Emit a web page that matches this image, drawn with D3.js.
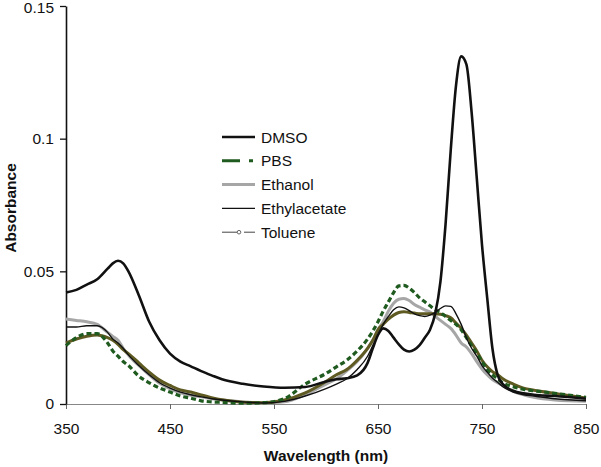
<!DOCTYPE html>
<html>
<head>
<meta charset="utf-8">
<script src="https://cdn.jsdelivr.net/npm/d3@7"></script>
<style>
  body { margin: 0; background: #fff; }
  svg text { font-family: Arial, "Liberation Sans", sans-serif; fill: #111; }
</style>
</head>
<body>
<div id="chart"></div>
<script>
// wavelength grid (nm), shared by every series
const wavelengths = [350,360,370,380,390,395,400,405,410,420,430,440,450,460,470,480,490,500,520,540,560,580,600,610,620,630,640,645,650,655,660,665,670,675,680,685,690,695,700,705,710,715,720,725,730,735,740,745,750,755,760,765,770,780,790,800,820,850]

const dmso = [.042,.043,.045,.047,.051,.053,.054,.053,.050,.041,.031,.024,.019,.016,.0142,.0124,.0108,.0093,.0076,.0066,.0061,.0064,.0085,.0093,.0097,.0108,.0155,.021,.026,.0285,.0275,.025,.0225,.0205,.0198,.0205,.0222,.025,.028,.034,.046,.068,.096,.12,.131,.128,.110,.085,.060,.040,.021,.011,.0075,.005,.004,.0035,.003,.002]
const pbs = [.022,.025,.0265,.0265,.023,.020,.018,.016,.0145,.0105,.008,.006,.0045,.003,.0022,.0012,.0008,.0006,.0003,.0005,.002,.0075,.0115,.014,.0165,.020,.0245,.0275,.031,.035,.0385,.042,.0445,.0447,.0437,.042,.040,.0385,.037,.0355,.0345,.033,.0315,.030,.028,.025,.022,.019,.016,.013,.011,.0095,.008,.0065,.0055,.005,.004,.0025]
const ethanol = [.032,.0315,.031,.030,.027,.0255,.024,.021,.0185,.0145,.011,.0078,.0058,.0042,.0033,.0027,.002,.0015,.0008,.0003,.0008,.0035,.0075,.0095,.0125,.016,.021,.024,.028,.031,.035,.038,.0395,.0398,.039,.0375,.0365,.0355,.0347,.033,.0315,.030,.0285,.026,.023,.0215,.019,.016,.0132,.011,.0092,.008,.007,.0048,.0035,.0025,.0015,.001]
const ethylacetate = [.029,.029,.0295,.0295,.027,.0245,.023,.021,.0185,.0145,.011,.008,.006,.0045,.0035,.0027,.002,.0015,.0008,.0004,.001,.003,.0058,.0075,.0095,.013,.018,.022,.026,.030,.033,.0355,.0366,.0362,.0352,.034,.0333,.033,.0335,.0345,.036,.037,.0368,.034,.030,.025,.021,.018,.0145,.012,.0098,.0082,.0065,.0045,.0035,.003,.002,.0012]
const toluene = [.023,.0245,.0255,.026,.025,.024,.0225,.0205,.019,.0155,.012,.009,.007,.0053,.0045,.0034,.0024,.0016,.0007,.0005,.0015,.0042,.0085,.011,.013,.0165,.021,.024,.028,.030,.032,.0335,.0345,.0348,.0345,.0343,.034,.034,.034,.034,.0338,.0333,.0325,.0305,.0285,.026,.023,.020,.0165,.014,.0122,.011,.0095,.0075,.006,.0052,.004,.0023]

const xTicks = [350,450,550,650,750,850]
const yTicks = [0,0.05,0.1,0.15]

const width = 601, height = 467
const margin = { top: 6, right: 15, bottom: 63, left: 66 }

const svg = d3.select("#chart").append("svg")
  .attr("width", width)
  .attr("height", height)

const x = d3.scaleLinear().domain([350, 850]).range([margin.left, width - margin.right])
const y = d3.scaleLinear().domain([0, 0.15]).range([height - margin.bottom, margin.top])

// series, in drawing order (bottom first)
const series = [
  { name: "Ethanol", values: ethanol, color: "#a6a6a6", width: 3, dash: null },
  { name: "Toluene", values: toluene, color: "#5e5a22", width: 3, dash: null },
  { name: "PBS", values: pbs, color: "#1f5a1f", width: 3.2, dash: "5,3" },
  { name: "Ethylacetate", values: ethylacetate, color: "#111", width: 1.4, dash: null },
  { name: "DMSO", values: dmso, color: "#111", width: 2.6, dash: null }
]

const line = d3.line()
  .x((d, i) => x(wavelengths[i]))
  .y(d => y(d))
  .curve(d3.curveMonotoneX)

// x axis
const xAxis = svg.append("g")
  .attr("transform", `translate(0,${y(0)})`)
  .call(d3.axisBottom(x).tickValues(xTicks).tickSize(5).tickSizeOuter(0).tickPadding(14))
xAxis.select(".domain").attr("stroke", "#888").attr("stroke-width", 1.2)
xAxis.selectAll(".tick line").attr("stroke", "#666")
xAxis.selectAll(".tick text").attr("font-size", 15.5).attr("fill", "#111")

// y axis
const yAxis = svg.append("g")
  .attr("transform", `translate(${x(350)},0)`)
  .call(d3.axisLeft(y).tickValues(yTicks).tickFormat(d => d === 0 ? "0" : String(d)).tickSize(6).tickSizeOuter(0).tickPadding(6))
yAxis.select(".domain").attr("stroke", "#111").attr("stroke-width", 1.6)
yAxis.selectAll(".tick line").attr("stroke", "#111").attr("stroke-width", 1.3)
yAxis.selectAll(".tick text").attr("font-size", 15.5).attr("fill", "#111")
// keep the top label inside the frame
yAxis.selectAll(".tick text").filter(d => d === 0.15).attr("dy", "0.4em")

// curves
series.forEach(s => {
  svg.append("path")
    .datum(s.values)
    .attr("fill", "none")
    .attr("stroke", s.color)
    .attr("stroke-width", s.width)
    .attr("stroke-dasharray", s.dash)
    .attr("stroke-linejoin", "round")
    .attr("d", line)
})

// axis titles
svg.append("text")
  .attr("x", (x(350) + x(850)) / 2)
  .attr("y", 461)
  .attr("text-anchor", "middle")
  .attr("font-size", 15.5)
  .attr("font-weight", "bold")
  .text("Wavelength (nm)")

svg.append("text")
  .attr("transform", `translate(16,${(y(0) + y(0.15)) / 2 + 3}) rotate(-90)`)
  .attr("text-anchor", "middle")
  .attr("font-size", 15.5)
  .attr("font-weight", "bold")
  .text("Absorbance")

// legend
const legendItems = [
  { name: "DMSO", color: "#111", width: 2.6, dash: null },
  { name: "PBS", color: "#1f5a1f", width: 3, dash: "18,9,4,20" },
  { name: "Ethanol", color: "#a6a6a6", width: 3, dash: null },
  { name: "Ethylacetate", color: "#111", width: 1.4, dash: null },
  { name: "Toluene", color: "#444", width: 1, dash: "17,5,11", marker: true }
]
const legend = svg.append("g").attr("transform", "translate(222,137)")
legendItems.forEach((d, i) => {
  const row = legend.append("g").attr("transform", `translate(0,${i * 23.8})`)
  row.append("line")
    .attr("x1", 0).attr("x2", 33)
    .attr("stroke", d.color)
    .attr("stroke-width", d.width)
    .attr("stroke-dasharray", d.dash)
  if (d.marker) {
    row.append("circle")
      .attr("cx", 17).attr("cy", 0).attr("r", 1.8)
      .attr("fill", "#fff").attr("stroke", "#666").attr("stroke-width", 1)
  }
  row.append("text")
    .attr("x", 39).attr("y", 5.5)
    .attr("font-size", 15.5)
    .text(d.name)
})
</script>
</body>
</html>
